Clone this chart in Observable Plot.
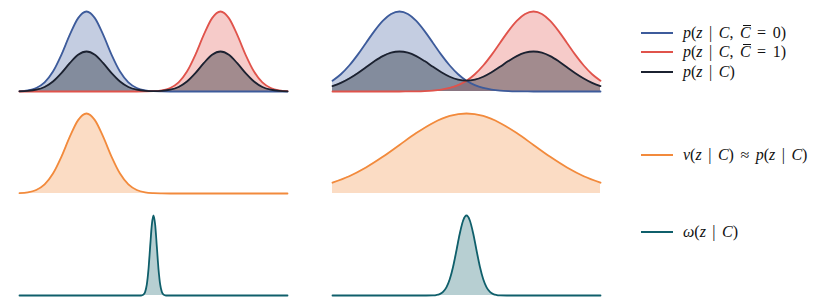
<!DOCTYPE html>
<html>
<head>
<meta charset="utf-8">
<script src="https://cdn.jsdelivr.net/npm/d3@7"></script>
<script src="https://cdn.jsdelivr.net/npm/@observablehq/plot@0.6"></script>
<style>
  html, body { margin: 0; padding: 0; background: #fff; }
  #wrap { position: relative; width: 830px; height: 305px; overflow: hidden; }
  #chart { position: absolute; left: 0; top: 0; }
  .item { position: absolute; left: 641px; height: 20px; }
  .sw { position: absolute; left: 0; top: 9px; width: 32px; height: 2px; }
  .lab { position: absolute; left: 42px; top: 0; line-height: 20px; white-space: nowrap;
         font-family: "Liberation Serif", "DejaVu Serif", serif; font-size: 16px; color: #111;
         word-spacing: 2.5px; }
  .lab i { font-style: italic; }
  .bar { position: relative; display: inline-block; }
  .bar::before { content: ""; position: absolute; left: 3px; top: 2px; width: 8px; border-top: 1px solid #111; }
</style>
</head>
<body>
<div id="wrap">
  <div id="chart"></div>
  <div id="legend"></div>
</div>
<script>
// sample positions (z)
const xGrid25 = [-4,-3.75,-3.5,-3.25,-3,-2.75,-2.5,-2.25,-2,-1.75,-1.5,-1.25,-1,-0.75,-0.5,-0.25,0,0.25,0.5,0.75,1,1.25,1.5,1.75,2,2.25,2.5,2.75,3,3.25,3.5,3.75,4];
const xGrid50 = [-4,-3.5,-3,-2.5,-2,-1.5,-1,-0.5,0,0.5,1,1.5,2,2.5,3,3.5,4];
const xSpikeL = [-4,-1,-0.5,-0.4,-0.35,-0.3,-0.25,-0.2,-0.15,-0.1,-0.05,0,0.05,0.1,0.15,0.2,0.25,0.3,0.35,0.4,0.5,1,4];
const xSpikeR = [-4,-2,-1.4,-1.2,-1,-0.9,-0.8,-0.7,-0.6,-0.5,-0.4,-0.3,-0.2,-0.1,0,0.1,0.2,0.3,0.4,0.5,0.6,0.7,0.8,0.9,1,1.2,1.4,2,4];

// row 1, left column
const leftBlue = [0.004,0.014,0.044,0.114,0.249,0.458,0.707,0.917,1,0.917,0.707,0.458,0.249,0.114,0.044,0.014,0.004,0.001,0,0,0,0,0,0,0,0,0,0,0,0,0,0,0];
const leftRed  = [0,0,0,0,0,0,0,0,0,0,0,0,0,0,0,0.001,0.004,0.014,0.044,0.114,0.249,0.458,0.707,0.917,1,0.917,0.707,0.458,0.249,0.114,0.044,0.014,0.004];
const leftMix  = [0.002,0.007,0.022,0.057,0.125,0.229,0.354,0.459,0.5,0.459,0.354,0.229,0.125,0.057,0.022,0.008,0.004,0.008,0.022,0.057,0.125,0.229,0.354,0.459,0.5,0.459,0.354,0.229,0.125,0.057,0.022,0.007,0.002];
// row 1, right column
const rightBlue = [0.135,0.216,0.325,0.458,0.607,0.755,0.882,0.969,1,0.969,0.882,0.755,0.607,0.458,0.325,0.216,0.135,0.080,0.044,0.023,0.011,0.005,0.002,0.001,0,0,0,0,0,0,0,0,0];
const rightRed  = [0,0,0,0,0,0,0,0,0,0.001,0.002,0.005,0.011,0.023,0.044,0.080,0.135,0.216,0.325,0.458,0.607,0.755,0.882,0.969,1,0.969,0.882,0.755,0.607,0.458,0.325,0.216,0.135];
const rightMix  = [0.068,0.108,0.163,0.229,0.304,0.378,0.442,0.485,0.5,0.485,0.442,0.380,0.309,0.241,0.185,0.148,0.135,0.148,0.185,0.241,0.309,0.380,0.442,0.485,0.5,0.485,0.442,0.378,0.304,0.229,0.163,0.108,0.068];
// row 2
const leftNu  = [0.004,0.014,0.044,0.114,0.249,0.458,0.707,0.917,1,0.917,0.707,0.458,0.249,0.114,0.044,0.014,0.004,0.001,0,0,0,0,0,0,0,0,0,0,0,0,0,0,0];
const rightNu = [0.135,0.216,0.325,0.458,0.607,0.755,0.882,0.969,1,0.969,0.882,0.755,0.607,0.458,0.325,0.216,0.135];
// row 3
const leftOmega  = [0,0,0,0,0.002,0.011,0.044,0.135,0.325,0.607,0.882,1,0.882,0.607,0.325,0.135,0.044,0.011,0.002,0,0,0,0];
const rightOmega = [0,0,0,0,0.002,0.006,0.017,0.044,0.101,0.203,0.360,0.563,0.775,0.938,1,0.938,0.775,0.563,0.360,0.203,0.101,0.044,0.017,0.006,0.002,0,0,0,0];

const colors = {blue: "#3d5b9b", red: "#e0534b", mix: "#1b2130", nu: "#f28a3c", omega: "#0f5f6b"};
const fillOpacity = {blue: 0.3, red: 0.3, mix: 0.38, nu: 0.3, omega: 0.3};

const rows = [];
function add(col, row, series, xs, ys) {
  xs.forEach((x, i) => rows.push({col, row, series, x, y: ys[i]}));
}
add("L", 1, "blue", xGrid25, leftBlue);
add("L", 1, "red", xGrid25, leftRed);
add("L", 1, "mix", xGrid25, leftMix);
add("R", 1, "blue", xGrid25, rightBlue);
add("R", 1, "red", xGrid25, rightRed);
add("R", 1, "mix", xGrid25, rightMix);
add("L", 2, "nu", xGrid25, leftNu);
add("R", 2, "nu", xGrid50, rightNu);
add("L", 3, "omega", xSpikeL, leftOmega);
add("R", 3, "omega", xSpikeR, rightOmega);

const order = ["blue", "red", "mix", "nu", "omega"];
const marks = [];
for (const s of order) {
  marks.push(Plot.areaY(rows.filter(d => d.series === s), {
    x: "x", y: "y", fx: "col", fy: "row", curve: "monotone-x",
    fill: colors[s], fillOpacity: fillOpacity[s]
  }));
}
for (const s of order) {
  marks.push(Plot.lineY(rows.filter(d => d.series === s), {
    x: "x", y: "y", fx: "col", fy: "row", curve: "monotone-x",
    stroke: colors[s], strokeWidth: 1.8
  }));
}

const chart = Plot.plot({
  width: 610, height: 305,
  marginLeft: 18, marginRight: 9, marginTop: 10, marginBottom: 10,
  x: {domain: [-4, 4], axis: null},
  y: {domain: [0, 1], axis: null},
  fx: {domain: ["L", "R"], axis: null, paddingInner: 0.1433, paddingOuter: 0},
  fy: {domain: [1, 2, 3], axis: null, paddingInner: 0.2157, paddingOuter: 0},
  facet: {marginTop: 0, marginBottom: 0, marginLeft: 0, marginRight: 0},
  marks
});
document.getElementById("chart").appendChild(chart);

// legend
const legendItems = [
  {top: 23, color: colors.blue, html: '<i>p</i>(<i>z</i> | <i>C</i>, <i class="bar">C</i> = 0)'},
  {top: 42, color: colors.red, html: '<i>p</i>(<i>z</i> | <i>C</i>, <i class="bar">C</i> = 1)'},
  {top: 62, color: colors.mix, html: '<i>p</i>(<i>z</i> | <i>C</i>)'},
  {top: 145, color: colors.nu, html: '<i>ν</i>(<i>z</i> | <i>C</i>) ≈ <i>p</i>(<i>z</i> | <i>C</i>)'},
  {top: 222, color: colors.omega, html: '<i>ω</i>(<i>z</i> | <i>C</i>)'}
];
const leg = document.getElementById("legend");
for (const it of legendItems) {
  const d = document.createElement("div");
  d.className = "item";
  d.style.top = it.top + "px";
  d.innerHTML = `<div class="sw" style="background:${it.color}"></div><div class="lab">${it.html}</div>`;
  leg.appendChild(d);
}
</script>
</body>
</html>
